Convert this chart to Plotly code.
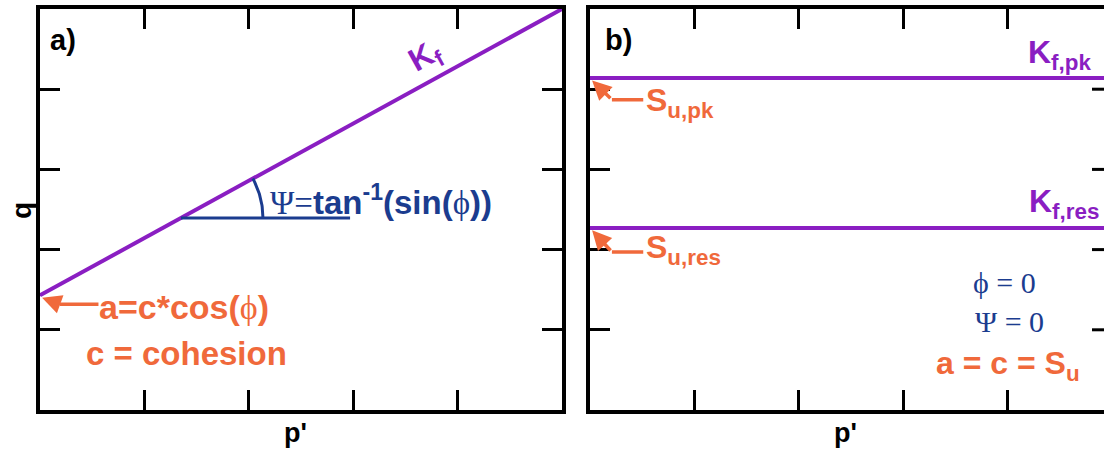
import numpy as np
import plotly.graph_objects as go

# ---- data ----
p_a = [0, 5]
q_a = [1.43, 5]          # failure line K_f (panel a)
p_b = [0, 5]
q_pk = 4.14              # K_f,pk level (panel b)
q_res = 2.27             # K_f,res level (panel b)
tick_vals = [1, 2, 3, 4]

PURPLE = "#8A1EC2"
ORANGE = "#F0693B"
BLUE = "#1B3C8F"
SANS = "Liberation Sans, Arial, sans-serif"
SERIF = "Liberation Serif, Times New Roman, serif"

W, H = 1104, 450
# pixel layout of the two panels
ax_l, ax_r = 40, 562
bx_l = 590
top_px, bot_px = 9, 410
px_per_x = (ax_r - ax_l) / 5.0
px_per_y = (bot_px - top_px) / 5.0
b_xmax = 5.0 * (W - bx_l) / (ax_r - ax_l)

fig = go.Figure()

# panel a failure line
fig.add_trace(go.Scatter(x=p_a, y=q_a, mode="lines", line=dict(color=PURPLE, width=4),
                         xaxis="x", yaxis="y", hoverinfo="skip", showlegend=False))
# panel b lines
for lvl in (q_pk, q_res):
    fig.add_trace(go.Scatter(x=p_b, y=[lvl, lvl], mode="lines", line=dict(color=PURPLE, width=4),
                             xaxis="x2", yaxis="y2", hoverinfo="skip", showlegend=False))

# angle construction in panel a
slope = (q_a[1] - q_a[0]) / (p_a[1] - p_a[0])
y_h = 2.394
x_v = (y_h - q_a[0]) / slope
x_end = 2.97
fig.add_trace(go.Scatter(x=[x_v, x_end], y=[y_h, y_h], mode="lines", line=dict(color=BLUE, width=3),
                         xaxis="x", yaxis="y", hoverinfo="skip", showlegend=False))
theta_max = np.arctan(slope * px_per_y / px_per_x)
r_px = 82
th = np.linspace(0, theta_max, 30)
arc_x = x_v + r_px * np.cos(th) / px_per_x
arc_y = y_h + r_px * np.sin(th) / px_per_y
fig.add_trace(go.Scatter(x=arc_x, y=arc_y, mode="lines", line=dict(color=BLUE, width=3),
                         xaxis="x", yaxis="y", hoverinfo="skip", showlegend=False))

# orange bent arrows: horizontal part as traces
def bent_arrow(xr, yr, tip, bend, hend):
    fig.add_trace(go.Scatter(x=[bend[0], hend], y=[bend[1], bend[1]], mode="lines",
                             line=dict(color=ORANGE, width=3.5), xaxis=xr, yaxis=yr,
                             hoverinfo="skip", showlegend=False))
    fig.add_annotation(x=tip[0], y=tip[1], ax=bend[0], ay=bend[1], xref=xr, yref=yr,
                       axref=xr, ayref=yr, showarrow=True, arrowhead=2, arrowsize=1.1,
                       arrowwidth=3.5, arrowcolor=ORANGE, text="")

bent_arrow("x", "y", (0.02, q_a[0] - 0.03), (0.19, 1.32), 0.56)
bent_arrow("x2", "y2", (0.02, q_pk - 0.03), (0.21, 3.87), 0.51)
bent_arrow("x2", "y2", (0.02, q_res - 0.03), (0.21, 1.97), 0.51)

# right-side ticks of panel b (border lies beyond the picture edge)
tick_len_x = 20 / px_per_x
for tv in tick_vals:
    fig.add_shape(type="line", xref="x2", yref="y2", x0=5 - tick_len_x, x1=5, y0=tv, y1=tv,
                  line=dict(color="black", width=3))

def ann(x, y, text, xr, yr, size, color, xanchor="center", family=SANS, weight="bold", angle=0,
        yanchor="middle"):
    fig.add_annotation(x=x, y=y, xref=xr, yref=yr, text=text, showarrow=False,
                       xanchor=xanchor, yanchor=yanchor, textangle=angle, borderpad=0,
                       font=dict(family=family, size=size, color=color, weight=weight))

SERIF_SPAN = "<span style=\"font-family:'Liberation Serif';font-weight:normal\">{}</span>"

# panel labels
ann(0.22, 4.61, "a)", "x", "y", 29, "black")
ann(0.27, 4.61, "b)", "x2", "y2", 29, "black")

# panel a texts
ann(3.69, 4.40, "K<sub>f</sub>", "x", "y", 32, PURPLE, angle=-29)
ann(2.19, 2.62,
    SERIF_SPAN.format("Ψ=") + "tan<sup>-1</sup>(sin(" + SERIF_SPAN.format("ϕ") + "))",
    "x", "y", 33, BLUE, xanchor="left")
ann(0.56, 1.28, "a=c*cos(" + SERIF_SPAN.format("ϕ") + ")", "x", "y", 34, ORANGE, xanchor="left")
ann(1.40, 0.71, "c = cohesion", "x", "y", 33, ORANGE)

# panel b texts
ann(0.53, 3.84, "S<sub>u,pk</sub>", "x2", "y2", 32, ORANGE, xanchor="left")
ann(0.53, 2.00, "S<sub>u,res</sub>", "x2", "y2", 32, ORANGE, xanchor="left")
ann(4.185, 4.43, "K<sub>f,pk</sub>", "x2", "y2", 32, PURPLE, xanchor="left")
ann(4.20, 2.58, "K<sub>f,res</sub>", "x2", "y2", 32, PURPLE, xanchor="left")
ann(3.975, 1.59, "ϕ = 0", "x2", "y2", 30, BLUE, family=SERIF, weight="normal")
ann(4.02, 1.10, "Ψ = 0", "x2", "y2", 30, BLUE, family=SERIF, weight="normal")
ann(4.00, 0.55, "a = c = S<sub>u</sub>", "x2", "y2", 32, ORANGE)

# axis titles (placed relative to the axes' domains)
ann(-18 / (ax_r - ax_l), (bot_px - 211) / (bot_px - top_px), "q", "x domain", "y domain",
    28, "black", angle=-90)
ann(0.49, (bot_px - 433) / (bot_px - top_px), "p'", "x domain", "y domain", 27, "black")
ann(0.49 * (ax_r - ax_l) / (W - bx_l), (bot_px - 433) / (bot_px - top_px), "p'",
    "x2 domain", "y2 domain", 27, "black")

ydom = [1 - bot_px / H, 1 - top_px / H]
common = dict(showgrid=False, zeroline=False, showticklabels=False, ticks="inside", ticklen=20,
              tickwidth=3, tickcolor="black", showline=True, linecolor="black", linewidth=4,
              tickvals=tick_vals, fixedrange=True)

fig.update_layout(
    width=W, height=H, margin=dict(l=0, r=0, t=0, b=0),
    paper_bgcolor="white", plot_bgcolor="white", showlegend=False,
    xaxis=dict(domain=[ax_l / W, ax_r / W], range=[0, 5], mirror="ticks", anchor="y", **common),
    yaxis=dict(domain=ydom, range=[0, 5], mirror="ticks", anchor="x", **common),
    xaxis2=dict(domain=[bx_l / W, 1.0], range=[0, b_xmax], mirror="ticks", anchor="y2", **common),
    yaxis2=dict(domain=ydom, range=[0, 5], mirror=False, anchor="x2", **common),
)

fig.write_html("out.html")
